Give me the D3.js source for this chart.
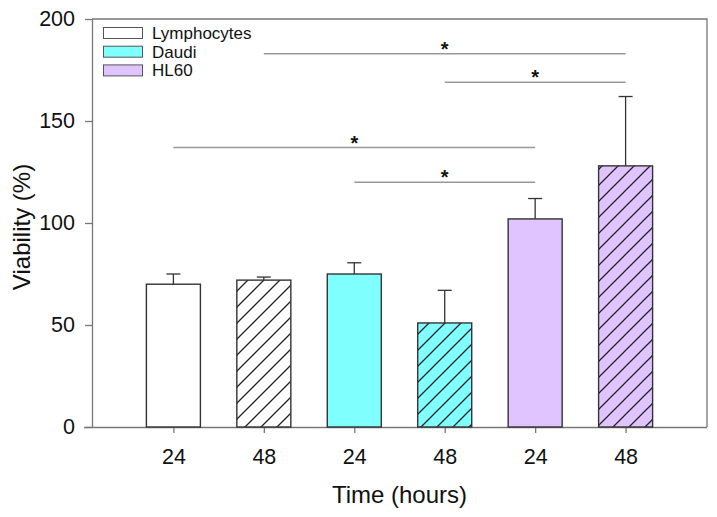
<!DOCTYPE html>
<html><head><meta charset="utf-8">
<script src="https://cdn.jsdelivr.net/npm/d3@7"></script>
<style>body{margin:0;background:#fff}svg{display:block}</style>
</head><body><svg id="c" width="717" height="517"></svg>
<script>
// ---- data ----
const categories = ["24","48","24","48","24","48"];
const groups = ["Lymphocytes","Lymphocytes","Daudi","Daudi","HL60","HL60"];
const hatched = [false,true,false,true,false,true];
const values = [70,72,75,51,102,128];
const errors = [5,1.5,5.5,16,10,34];
const legendLabels = ["Lymphocytes","Daudi","HL60"];
const sigPairs = [[1,5],[3,5],[0,4],[2,4]];
const sigLevels = [183,169,137,120];
const yTicks = [0,50,100,150,200];

// ---- style ----
const colors = {Lymphocytes:"#ffffff", Daudi:"#80ffff", HL60:"#e0c4ff"};
const font = "'Liberation Sans', Arial, sans-serif";
const svg = d3.select("#c");
const L=92, R=707, T=19, B=427;
const x = d3.scaleLinear().domain([-0.9,5.9]).range([L,R]);
const y = d3.scaleLinear().domain([0,200]).range([B,T]);
const barW = 54;

const defs = svg.append("defs");
defs.append("pattern").attr("id","hatch").attr("patternUnits","userSpaceOnUse")
  .attr("width",16).attr("height",16)
  .append("path").attr("d","M0,16 L16,0 M-4,4 L4,-4 M12,20 L20,12")
  .attr("stroke","#222").attr("stroke-width",1.3).attr("fill","none");

// frame
svg.append("path").attr("d",`M${L},${T} H${R} V${B}`).attr("fill","none").attr("stroke","#777").attr("stroke-width",1.3);

// axes
const ya = svg.append("g").attr("transform",`translate(${L},0)`)
  .call(d3.axisLeft(y).tickValues(yTicks).tickSize(7).tickSizeOuter(0).tickPadding(10));
const xa = svg.append("g").attr("transform",`translate(0,${B})`)
  .call(d3.axisBottom(x).tickValues(d3.range(categories.length)).tickFormat(i=>categories[i]).tickSize(6).tickSizeOuter(0).tickPadding(16));
[ya,xa].forEach(g=>{
  g.selectAll("path,line").attr("stroke","#777").attr("stroke-width",1.3);
  g.selectAll("text").attr("font-family",font).attr("font-size",21.5).attr("fill","#111");
});
xa.select(".domain").attr("d",`M${L-8},0.5H${R}`);

// bars
const idx = d3.range(values.length);
const bars = svg.append("g");
// error bars
bars.selectAll("g.err").data(idx).join("g").attr("class","err").each(function(i){
  const g=d3.select(this), cx=x(i);
  g.append("line").attr("x1",cx).attr("x2",cx).attr("y1",y(values[i])).attr("y2",y(values[i]+errors[i]))
    .attr("stroke","#333").attr("stroke-width",1.3);
  g.append("line").attr("x1",cx-7).attr("x2",cx+7).attr("y1",y(values[i]+errors[i])).attr("y2",y(values[i]+errors[i]))
    .attr("stroke","#333").attr("stroke-width",1.3);
});
bars.selectAll("rect.fill").data(idx).join("rect").attr("class","fill")
  .attr("x",i=>x(i)-barW/2).attr("width",barW).attr("y",i=>y(values[i])).attr("height",i=>B-y(values[i]))
  .attr("fill",i=>colors[groups[i]]);
bars.selectAll("rect.hatch").data(idx.filter(i=>hatched[i])).join("rect").attr("class","hatch")
  .attr("x",i=>x(i)-barW/2).attr("width",barW).attr("y",i=>y(values[i])).attr("height",i=>B-y(values[i]))
  .attr("fill","url(#hatch)");
bars.selectAll("rect.edge").data(idx).join("rect").attr("class","edge")
  .attr("x",i=>x(i)-barW/2).attr("width",barW).attr("y",i=>y(values[i])).attr("height",i=>B-y(values[i]))
  .attr("fill","none").attr("stroke","#333").attr("stroke-width",1.4);

// significance
const sig = svg.append("g");
sigPairs.forEach((p,k)=>{
  sig.append("line").attr("x1",x(p[0])).attr("x2",x(p[1])).attr("y1",y(sigLevels[k])).attr("y2",y(sigLevels[k]))
    .attr("stroke","#999").attr("stroke-width",1.5);
  sig.append("text").attr("x",(x(p[0])+x(p[1]))/2).attr("y",y(sigLevels[k])+2)
    .attr("text-anchor","middle").attr("font-family",font).attr("font-size",20).attr("font-weight","bold").attr("fill","#111").text("*");
});

// legend
const lg = svg.append("g");
legendLabels.forEach((n,k)=>{
  lg.append("rect").attr("x",103.5).attr("y",27.5+k*18.7).attr("width",39).attr("height",11)
    .attr("fill",colors[n]).attr("stroke","#555").attr("stroke-width",1);
  lg.append("text").attr("x",152).attr("y",39+k*18.7).attr("font-family",font).attr("font-size",17).attr("fill","#111").text(n);
});

// titles
svg.append("text").attr("transform",`translate(30,227) rotate(-90)`).attr("text-anchor","middle")
  .attr("font-family",font).attr("font-size",24).attr("fill","#111").text("Viability (%)");
svg.append("text").attr("x",x(2.5)).attr("y",503).attr("text-anchor","middle")
  .attr("font-family",font).attr("font-size",24).attr("fill","#111").text("Time (hours)");
</script></body></html>
